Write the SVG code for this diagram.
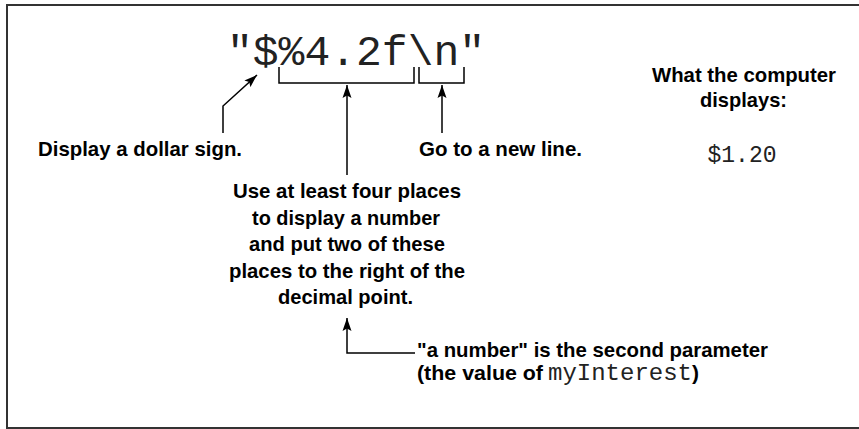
<svg xmlns="http://www.w3.org/2000/svg" width="859" height="429" viewBox="0 0 859 429">
<defs>
<marker id="ah" markerUnits="userSpaceOnUse" markerWidth="14" markerHeight="10" refX="13" refY="5" orient="auto">
<path d="M0,0.5 L13,5 L0,9.5 L2.5,5 z" fill="#000"/>
</marker>
<style>
.frame{fill:#fff;stroke:#333;stroke-width:2}
.line{fill:none;stroke:#000;stroke-width:1.5}
.lbl{font-family:"Liberation Sans",Arial,sans-serif;font-weight:bold;font-size:21px;fill:#000}
.code{font-family:"Liberation Mono","Courier New",monospace;fill:#222}
</style>
</defs>
<rect class="frame" x="7" y="5" width="855" height="423"/>
<g id="format">
<text class="code" x="227" y="65" font-size="43">"$%4.2f\n"</text>
</g>
<g id="result">
<text class="lbl" x="652" y="82" textLength="184" lengthAdjust="spacingAndGlyphs">What the computer</text>
<text class="lbl" x="700" y="107" textLength="87" lengthAdjust="spacingAndGlyphs">displays:</text>
<text class="code" text-anchor="middle" x="742" y="162" font-size="23">$1.20</text>
</g>
<g id="dollar">
<text class="lbl" x="38" y="156" textLength="204" lengthAdjust="spacingAndGlyphs">Display a dollar sign.</text>
</g>
<g id="newline">
<text class="lbl" x="419" y="156" textLength="163" lengthAdjust="spacingAndGlyphs">Go to a new line.</text>
</g>
<g id="places">
<text class="lbl" x="233" y="198" textLength="228" lengthAdjust="spacingAndGlyphs">Use at least four places</text>
<text class="lbl" x="252" y="224.5" textLength="188" lengthAdjust="spacingAndGlyphs">to display a number</text>
<text class="lbl" x="249" y="251" textLength="196" lengthAdjust="spacingAndGlyphs">and put two of these</text>
<text class="lbl" x="229" y="277.5" textLength="236" lengthAdjust="spacingAndGlyphs">places to the right of the</text>
<text class="lbl" x="278" y="304" textLength="135" lengthAdjust="spacingAndGlyphs">decimal point.</text>
</g>
<g id="parameter">
<text class="lbl" x="417" y="357" textLength="351" lengthAdjust="spacingAndGlyphs">"a number" is the second parameter</text>
<text class="lbl" x="417" y="380" textLength="126" lengthAdjust="spacingAndGlyphs">(the value of</text>
<text class="code" x="548" y="380" font-size="24">myInterest</text>
<text class="lbl" x="692" y="380">)</text>
</g>
<g id="connectors">
<path class="line" d="M279,67 V83 H414 V67"/>
<path class="line" d="M419,67 V83 H464 V67"/>
<path class="line" d="M347,175 V85" marker-end="url(#ah)"/>
<path class="line" d="M442,133 V85" marker-end="url(#ah)"/>
<path class="line" d="M223,133 V106 L257,75" marker-end="url(#ah)"/>
<path class="line" d="M415,353 H347 V318" marker-end="url(#ah)"/>
</g>
</svg>
